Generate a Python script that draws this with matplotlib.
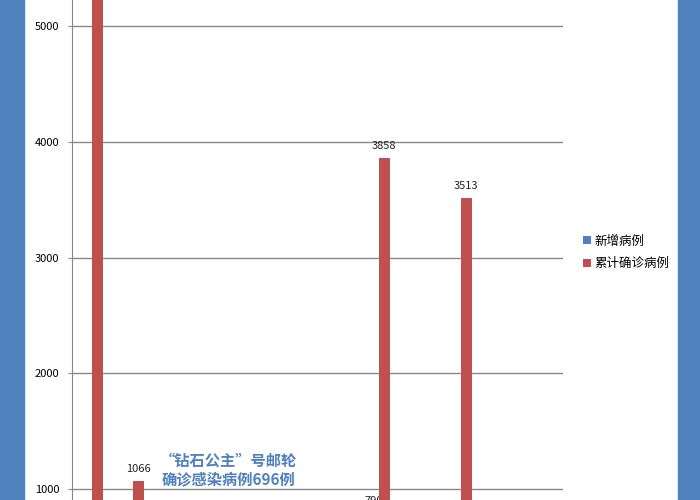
import matplotlib.pyplot as plt
from matplotlib.patches import Rectangle
import numpy as np

plt.rcParams['font.family'] = ['Noto Sans CJK SC', 'DejaVu Sans']

# data (only part of the chart is visible in the reference crop)
countries = ["韩国", "日本", "新加坡", "美国", "德国", "法国", "西班牙", "意大利", "瑞士", "伊朗", "英国", "科威特"]
new_cases = [438, 33, 5, 60, 140, 138, 61, 790, 32, 591, 28, 2]
total_cases = [6088, 1066, 117, 221, 400, 423, 259, 3858, 90, 3513, 115, 58]

blue = "#4F81BD"
red = "#C0504D"

fig = plt.figure(figsize=(7, 5), dpi=100)

# blue side panels
fig.patches.append(Rectangle((0, 0), 24 / 700, 1, transform=fig.transFigure, color=blue, zorder=0))
fig.patches.append(Rectangle((678 / 700, 0), 22 / 700, 1, transform=fig.transFigure, color=blue, zorder=0))

# the axes run past the bottom of the figure (the reference is cropped)
ax = fig.add_axes([72 / 700, -104.7 / 500, 491 / 700, 604.7 / 500])
ax.set_ylim(0, 5226)
ax.set_xlim(-0.5, len(countries) - 0.5)

x = np.arange(len(countries))
w = 0.269
ax.bar(x - w / 2, new_cases, w, color=blue, zorder=2, label="新增病例")
ax.bar(x + w / 2, total_cases, w, color=red, zorder=3, label="累计确诊病例")

for i in range(len(countries)):
    ax.annotate(str(new_cases[i]), (x[i] - w / 2, new_cases[i]), xytext=(0, 5), textcoords="offset points",
                ha="center", va="bottom", fontsize=8, color="#222222", zorder=2.5)
    ax.annotate(str(total_cases[i]), (x[i] + w / 2, total_cases[i]), xytext=(0, 5), textcoords="offset points",
                ha="center", va="bottom", fontsize=8, color="#222222", zorder=4)

ax.set_yticks([0, 1000, 2000, 3000, 4000, 5000])
ax.tick_params(axis="y", labelsize=8, length=3, color="#888888", pad=6)
# category labels sit below the visible part of the picture
ax.set_xticks(x)
ax.tick_params(axis="x", length=0, labelbottom=False)
ax.grid(axis="y", color="#888888", lw=1, zorder=1)
ax.set_axisbelow(True)
for s in ["top", "right"]:
    ax.spines[s].set_visible(False)
ax.spines["left"].set_color("#888888")
ax.spines["bottom"].set_color("#888888")

fig.text(228 / 700, 1 - 470 / 500, "“钻石公主”号邮轮\n确诊感染病例696例", ha="center", va="center",
         fontsize=11, fontweight="bold", color="#4F81BD", linespacing=1.15)

fig.legend(loc="center left", bbox_to_anchor=(572 / 700, 1 - 252.5 / 500), frameon=False, fontsize=9,
           handlelength=0.6, handleheight=0.6, handletextpad=0.3, labelspacing=0.75)

fig.savefig("out.png", dpi=100)
